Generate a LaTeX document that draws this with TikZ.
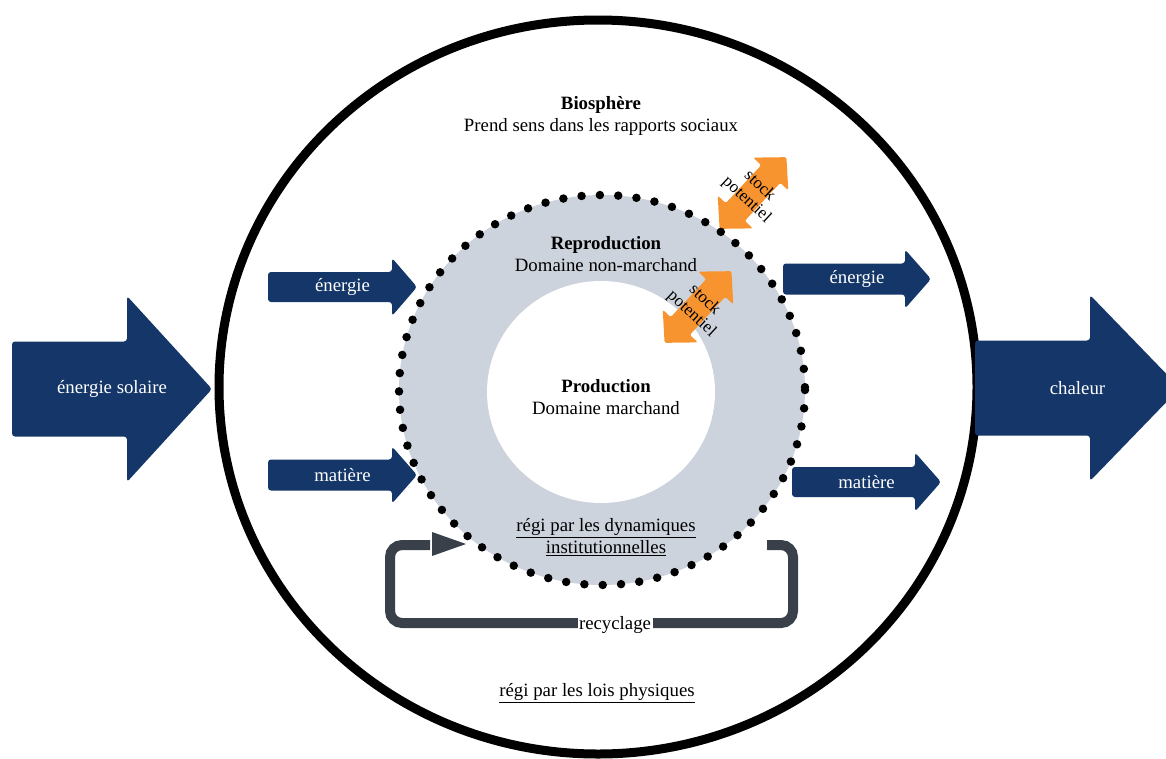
\documentclass[tikz,border=0pt]{standalone}
\usepackage{fontspec}
\setmainfont{Liberation Serif}
\usetikzlibrary{arrows.meta}
\definecolor{navy}{RGB}{20,54,104}
\definecolor{ringgray}{RGB}{205,211,220}
\definecolor{stockorange}{RGB}{247,148,47}
\definecolor{loopgray}{RGB}{58,64,74}
% #1 xL, #2 xHead, #3 xTip, #4 yc, #5 body half, #6 head half, #7 name, #8 label
\newcommand\flowarrow[8]{%
  \fill[navy, rounded corners=3] (#1,#4-#5) -- (#2,#4-#5) -- (#2,#4-#6) -- (#3,#4)
     -- (#2,#4+#6) -- (#2,#4+#5) -- (#1,#4+#5) -- cycle;
  \node[arrowtext] (#7) at ({(#1+#3)/2},#4) {#8};}
% #1 center, #2 angle, #3 name
\newcommand\stockarrow[3]{%
  \begin{scope}[shift={#1}, rotate=#2]
    \fill[stockorange, rounded corners=2] (-49,0) -- (-26,24) -- (-26,13) -- (26,13)
      -- (26,24) -- (49,0) -- (26,-24) -- (26,-13) -- (-26,-13) -- (-26,-24) -- cycle;
  \end{scope}
  \node[stocktext, rotate=#2-90] (#3) at #1 {stock\\potentiel};}
\begin{document}
\begin{tikzpicture}[x=1pt,y=-1pt,
  font=\fontsize{18.8}{21.5}\selectfont,
  arrowtext/.style={text=white, inner sep=0pt},
  label/.style={inner sep=0pt, align=center},
  stocktext/.style={inner sep=0pt, align=center, font=\fontsize{17}{19}\selectfont},
  loopline/.style={draw=loopgray, line width=10pt, rounded corners=12pt}]
\useasboundingbox (0,0) rectangle (1166,758);
\clip (0,0) rectangle (1166,758);
\fill[white] (0,0) rectangle (1166,758);

% biosphere
\draw[line width=9pt] (598,387) ellipse [x radius=379, y radius=367];

% ring
\fill[ringgray] (602,390) ellipse [x radius=203, y radius=195];
\fill[white] (601,392) ellipse [x radius=114, y radius=111];

% stock arrows
\stockarrow{(753,193)}{47}{stockA}
\stockarrow{(698,307)}{47}{stockB}

% dotted boundary
\draw[line width=8.5pt, line cap=round, dash pattern=on 0pt off 18.35pt] (602,390) ellipse [x radius=203, y radius=195];

% flows
\flowarrow{12}{127}{212}{389}{47.5}{93}{solaire}{énergie solaire}
\flowarrow{975}{1090}{1180}{388}{47.5}{93}{chaleur}{chaleur}
\flowarrow{268}{392}{417}{287}{15}{29}{enin}{énergie}
\flowarrow{268}{392}{417}{475}{15.5}{28.5}{matin}{matière}
\flowarrow{783}{905}{931}{279}{15.5}{29.5}{enout}{énergie}
\flowarrow{792}{915}{941}{482}{15}{29.5}{matout}{matière}

% texts
\node[label] (bio) at (601,116) {\textbf{Biosphère}\\Prend sens dans les rapports sociaux};
\node[label] (repro) at (606,254) {\textbf{Reproduction}\\Domaine non-marchand};
\node[label] (prod) at (606,397) {\textbf{Production}\\Domaine marchand};
\node[label] (inst) at (606,537) {\underline{régi par les dynamiques}\\\underline{institutionnelles}};
\node[label] (phys) at (597,693) {\underline{régi par les lois physiques}};

% recycling loop
\coordinate (rs) at (767,545);
\coordinate (rc1) at (793,545);
\coordinate (rc2) at (793,623);
\coordinate (rc3) at (390,623);
\coordinate (rc4) at (390,545);
\coordinate (re) at (430,545);
\draw[loopline] (rs) -- (rc1) -- (rc2) -- (rc3) -- (rc4) -- (re);
\coordinate (retip) at (466,544);
\fill[loopgray] (retip) -- (432,532) -- (432,556) -- cycle;
\node[fill=white, inner sep=1.5pt] (recyc) at (615,625) {recyclage};
\end{tikzpicture}
\end{document}
